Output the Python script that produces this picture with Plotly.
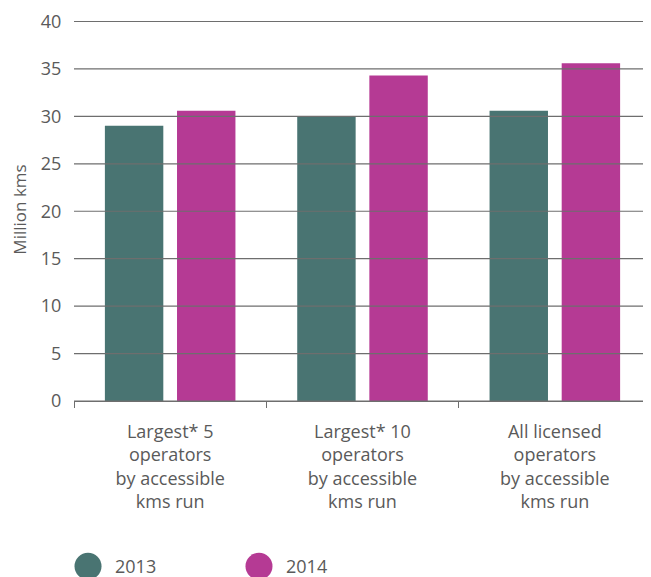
import plotly.graph_objects as go

categories = [
    "Largest* 5<br>operators<br>by accessible<br>kms run",
    "Largest* 10<br>operators<br>by accessible<br>kms run",
    "All licensed<br>operators<br>by accessible<br>kms run",
]
series_names = ["2013", "2014"]
values_2013 = [29.0, 30.0, 30.6]
values_2014 = [30.6, 34.3, 35.6]
y_ticks = [0, 5, 10, 15, 20, 25, 30, 35, 40]

colors = {"2013": "#497472", "2014": "#b53a94"}
font_family = "Open Sans, Lato, sans-serif"
text_color = "#5a5a5a"
grid_color = "#6e6e6e"

fig = go.Figure()
for name, vals in zip(series_names, [values_2013, values_2014]):
    fig.add_trace(go.Bar(
        x=categories, y=vals, name=name,
        marker=dict(color=colors[name], line=dict(width=0)),
        showlegend=False,
    ))

# gridlines above bars (as in the reference)
shapes = []
for t in y_ticks:
    shapes.append(dict(type="line", xref="paper", yref="y", x0=0, x1=1, y0=t, y1=t,
                       line=dict(color=grid_color, width=1.2), layer="above"))

# custom legend with large circles
annotations = []
legend_y = -0.4316
for (cx, tx), name in zip([(0.0243, 0.0676), (0.3206, 0.3640)], series_names):
    shapes.append(dict(type="circle", xref="paper", yref="paper",
                       xsizemode="pixel", ysizemode="pixel",
                       xanchor=cx, yanchor=legend_y,
                       x0=-13.5, x1=13.5, y0=-13.5, y1=13.5,
                       fillcolor=colors[name], line=dict(width=0)))
    annotations.append(dict(xref="paper", yref="paper", x=tx, y=legend_y,
                            xanchor="left", yanchor="middle", showarrow=False,
                            text=name, font=dict(size=18, color=text_color, family=font_family)))

fig.update_layout(
    width=643, height=569,
    margin=dict(l=66, r=0, t=10, b=176),
    plot_bgcolor="white", paper_bgcolor="white",
    barmode="group", bargap=0.25, bargroupgap=0.19,
    font=dict(family=font_family, color=text_color, size=18),
    shapes=shapes, annotations=annotations,
    showlegend=False,
)
fig.update_yaxes(
    range=[0, 40.37], tickvals=y_ticks, showgrid=False, zeroline=False,
    showline=False, ticks="outside", ticklen=8, tickcolor="rgba(0,0,0,0)",
    tickfont=dict(size=18, color=text_color),
    title=dict(text="Million kms", font=dict(size=17, color=text_color), standoff=10),
)
fig.update_xaxes(
    showline=True, linecolor=grid_color, linewidth=1.2,
    tickson="boundaries", ticks="outside", ticklen=6, tickcolor=grid_color,
    tickfont=dict(size=18, color=text_color), ticklabelstandoff=14,
    showgrid=False,
)

fig.write_html("out.html")
